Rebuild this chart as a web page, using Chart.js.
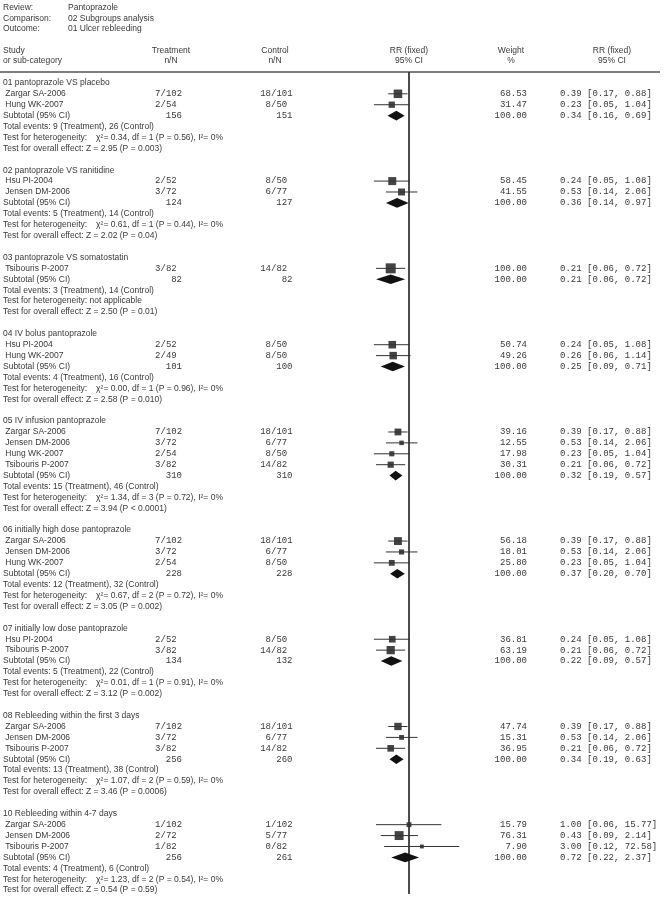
<!DOCTYPE html>
<html>
<head>
<meta charset="utf-8">
<title>Pantoprazole - Ulcer rebleeding</title>
<script src="https://cdn.jsdelivr.net/npm/chart.js@4.4.1/dist/chart.umd.min.js"></script>
<style>
    body { margin: 0; background: #fff; }
    #forest { display: block; }
</style>
</head>
<body>
<canvas id="forest" width="668" height="901"></canvas>
<script>
// review info
const reviewInfo = [['Review:', 'Pantoprazole'], ['Comparison:', '02 Subgroups analysis'], ['Outcome:', '01 Ulcer rebleeding']];

// subgroups
const groupTitles = [
    '01 pantoprazole VS placebo',
    '02 pantoprazole VS ranitidine',
    '03 pantoprazole VS somatostatin',
    '04 IV bolus pantoprazole',
    '05 IV infusion pantoprazole',
    '06 initially high dose pantoprazole',
    '07 initially low dose pantoprazole',
    '08 Rebleeding within the first 3 days',
    '10 Rebleeding within 4-7 days'
];
const groupSizes = [2, 2, 1, 2, 4, 3, 2, 3, 3];

// studies (in order of the groups)
const studyNames = [
    'Zargar SA-2006', 'Hung WK-2007',
    'Hsu PI-2004', 'Jensen DM-2006',
    'Tsibouris P-2007',
    'Hsu PI-2004', 'Hung WK-2007',
    'Zargar SA-2006', 'Jensen DM-2006', 'Hung WK-2007', 'Tsibouris P-2007',
    'Zargar SA-2006', 'Jensen DM-2006', 'Hung WK-2007',
    'Hsu PI-2004', 'Tsibouris P-2007',
    'Zargar SA-2006', 'Jensen DM-2006', 'Tsibouris P-2007',
    'Zargar SA-2006', 'Jensen DM-2006', 'Tsibouris P-2007'
];
const treatEvents = [7, 2, 2, 3, 3, 2, 2, 7, 3, 2, 3, 7, 3, 2, 2, 3, 7, 3, 3, 1, 2, 1];
const treatTotals = [102, 54, 52, 72, 82, 52, 49, 102, 72, 54, 82, 102, 72, 54, 52, 82, 102, 72, 82, 102, 72, 82];
const ctrlEvents = [18, 8, 8, 6, 14, 8, 8, 18, 6, 8, 14, 18, 6, 8, 8, 14, 18, 6, 14, 1, 5, 0];
const ctrlTotals = [101, 50, 50, 77, 82, 50, 50, 101, 77, 50, 82, 101, 77, 50, 50, 82, 101, 77, 82, 102, 77, 82];
const studyWeights = [68.53, 31.47, 58.45, 41.55, 100.00, 50.74, 49.26, 39.16, 12.55, 17.98, 30.31,
    56.18, 18.01, 25.80, 36.81, 63.19, 47.74, 15.31, 36.95, 15.79, 76.31, 7.90];
const studyRR = [0.39, 0.23, 0.24, 0.53, 0.21, 0.24, 0.26, 0.39, 0.53, 0.23, 0.21,
    0.39, 0.53, 0.23, 0.24, 0.21, 0.39, 0.53, 0.21, 1.00, 0.43, 3.00];
const studyLow = [0.17, 0.05, 0.05, 0.14, 0.06, 0.05, 0.06, 0.17, 0.14, 0.05, 0.06,
    0.17, 0.14, 0.05, 0.05, 0.06, 0.17, 0.14, 0.06, 0.06, 0.09, 0.12];
const studyHigh = [0.88, 1.04, 1.08, 2.06, 0.72, 1.08, 1.14, 0.88, 2.06, 1.04, 0.72,
    0.88, 2.06, 1.04, 1.08, 0.72, 0.88, 2.06, 0.72, 15.77, 2.14, 72.58];

// subtotals
const subTreatTotals = [156, 124, 82, 101, 310, 228, 134, 256, 256];
const subCtrlTotals = [151, 127, 82, 100, 310, 228, 132, 260, 261];
const subRR = [0.34, 0.36, 0.21, 0.25, 0.32, 0.37, 0.22, 0.34, 0.72];
const subLow = [0.16, 0.14, 0.06, 0.09, 0.19, 0.20, 0.09, 0.19, 0.22];
const subHigh = [0.69, 0.97, 0.72, 0.71, 0.57, 0.70, 0.57, 0.63, 2.37];
const subTreatEvents = [9, 5, 3, 4, 15, 12, 5, 13, 4];
const subCtrlEvents = [26, 14, 14, 16, 46, 32, 22, 38, 6];
const hetChi2 = [0.34, 0.61, null, 0.00, 1.34, 0.67, 0.01, 1.07, 1.23];
const hetDf = [1, 1, null, 1, 3, 2, 1, 2, 2];
const hetP = ['0.56', '0.44', null, '0.96', '0.72', '0.72', '0.91', '0.59', '0.54'];
const overallZ = [2.95, 2.02, 2.50, 2.58, 3.94, 3.05, 3.12, 3.46, 0.54];
const overallP = ['= 0.003', '= 0.04', '= 0.01', '= 0.010', '< 0.0001', '= 0.002', '= 0.002', '= 0.0006', '= 0.59'];

const SANS = '8.5px "Liberation Sans", Arial, sans-serif';
const MONO = '9px "Liberation Mono", "Courier New", monospace';
const TEXT = '#3a3a3a';

// work out which row every line goes on
let groupRows = [], studyRows = [], subRows = [];
let row = 0, k = 0;
groupSizes.forEach((n, g) => {
    groupRows.push(row++);
    for (let i = 0; i < n; i++) studyRows[k++] = row++;
    subRows.push(row);
    row += 5;
});
const lastRow = row - 2;

let ciData = [];
studyRows.forEach((r, i) => {
    ciData.push({x: studyLow[i], y: r}, {x: studyHigh[i], y: r}, {x: null, y: null});
});

const boxData = studyRows.map((r, i) => ({x: studyRR[i], y: r}));

function boxRadius(ctx) {
    const w = studyWeights[ctx.dataIndex];
    return (1.5 + 0.85 * Math.sqrt(w)) / Math.SQRT2;
}

// diamonds for subtotals
const diamondPlugin = {
    id: 'diamonds',
    afterDatasetsDraw(chart) {
        const ctx = chart.ctx, xs = chart.scales.x, ys = chart.scales.y;
        ctx.save();
        ctx.fillStyle = '#111';
        subRows.forEach((r, g) => {
            const yc = ys.getPixelForValue(r);
            const x0 = xs.getPixelForValue(subLow[g]);
            const xm = xs.getPixelForValue(subRR[g]);
            const x1 = xs.getPixelForValue(subHigh[g]);
            ctx.beginPath();
            ctx.moveTo(x0, yc);
            ctx.lineTo(xm, yc - 4.8);
            ctx.lineTo(x1, yc);
            ctx.lineTo(xm, yc + 4.8);
            ctx.closePath();
            ctx.fill();
        });
        ctx.restore();
    }
};

function nN(ctx, ev, tot, slashX, y) {
    ctx.textAlign = 'right';
    ctx.fillText(String(ev), slashX, y);
    ctx.textAlign = 'left';
    ctx.fillText('/' + tot, slashX, y);
}

const textPlugin = {
    id: 'tableText',
    beforeDatasetsDraw(chart) {
        const ctx = chart.ctx;
        ctx.save();
        ctx.strokeStyle = '#555';
        ctx.lineWidth = 1.5;
        ctx.beginPath();
        ctx.moveTo(0, chart.chartArea.top);
        ctx.lineTo(660, chart.chartArea.top);
        ctx.stroke();
        ctx.restore();
    },
    afterDraw(chart) {
        const ctx = chart.ctx, ys = chart.scales.y, xs = chart.scales.x;
        const col = {label: 3, treatSlash: 160.5, ctrlSlash: 271, treatSub: 182, ctrlSub: 292.5,
            weight: 527, rr: 560, treatHead: 171, ctrlHead: 275, plotHead: xs.getPixelForValue(1),
            weightHead: 511, rrHead: 612};
        ctx.save();
        ctx.fillStyle = TEXT;
        ctx.textBaseline = 'middle';
        ctx.font = SANS;

        reviewInfo.forEach((item, i) => {
            const y = 8 + i * 10.5;
            ctx.textAlign = 'left';
            ctx.fillText(item[0], col.label, y);
            ctx.fillText(item[1], 68, y);
        });

        const h1 = ys.getPixelForValue(-3), h2 = ys.getPixelForValue(-2);
        ctx.textAlign = 'left';
        ctx.fillText('Study', col.label, h1);
        ctx.fillText('or sub-category', col.label, h2);
        ctx.textAlign = 'center';
        [[col.treatHead, 'Treatment', 'n/N'], [col.ctrlHead, 'Control', 'n/N'],
            [col.plotHead, 'RR (fixed)', '95% CI'], [col.weightHead, 'Weight', '%'],
            [col.rrHead, 'RR (fixed)', '95% CI']].forEach(h => {
            ctx.fillText(h[1], h[0], h1);
            ctx.fillText(h[2], h[0], h2);
        });

        let s = 0;
        groupTitles.forEach((title, g) => {
            ctx.font = SANS;
            ctx.textAlign = 'left';
            ctx.fillText(title, col.label, ys.getPixelForValue(groupRows[g]));
            for (let i = 0; i < groupSizes[g]; i++, s++) {
                const y = ys.getPixelForValue(studyRows[s]);
                ctx.font = SANS;
                ctx.textAlign = 'left';
                ctx.fillText(' ' + studyNames[s], col.label, y);
                ctx.font = MONO;
                nN(ctx, treatEvents[s], treatTotals[s], col.treatSlash, y);
                nN(ctx, ctrlEvents[s], ctrlTotals[s], col.ctrlSlash, y);
                ctx.textAlign = 'right';
                ctx.fillText(studyWeights[s].toFixed(2), col.weight, y);
                ctx.textAlign = 'left';
                ctx.fillText(`${studyRR[s].toFixed(2)} [${studyLow[s].toFixed(2)}, ${studyHigh[s].toFixed(2)}]`, col.rr, y);
            }
            const r = subRows[g];
            let y = ys.getPixelForValue(r);
            ctx.font = SANS;
            ctx.textAlign = 'left';
            ctx.fillText('Subtotal (95% CI)', col.label, y);
            ctx.font = MONO;
            ctx.textAlign = 'right';
            ctx.fillText(String(subTreatTotals[g]), col.treatSub, y);
            ctx.fillText(String(subCtrlTotals[g]), col.ctrlSub, y);
            ctx.fillText('100.00', col.weight, y);
            ctx.textAlign = 'left';
            ctx.fillText(`${subRR[g].toFixed(2)} [${subLow[g].toFixed(2)}, ${subHigh[g].toFixed(2)}]`, col.rr, y);

            ctx.font = SANS;
            ctx.fillText(`Total events: ${subTreatEvents[g]} (Treatment), ${subCtrlEvents[g]} (Control)`,
                col.label, ys.getPixelForValue(r + 1));
            y = ys.getPixelForValue(r + 2);
            if (hetChi2[g] === null) {
                ctx.fillText('Test for heterogeneity: not applicable', col.label, y);
            } else {
                const lab = 'Test for heterogeneity:';
                ctx.fillText(lab, col.label, y);
                const x = col.label + ctx.measureText(lab).width + 9;
                ctx.fillText(`\u03C7\u00B2= ${hetChi2[g].toFixed(2)}, df = ${hetDf[g]} (P = ${hetP[g]}), I\u00B2= 0%`, x, y);
            }
            ctx.fillText(`Test for overall effect: Z = ${overallZ[g].toFixed(2)} (P ${overallP[g]})`,
                col.label, ys.getPixelForValue(r + 3));
        });
        ctx.restore();
    }
};

const forest = new Chart(document.getElementById('forest'), {
    type: 'scatter',
    data: {
        datasets: [
            {
                label: 'no effect',
                data: [{x: 1, y: -1}, {x: 1, y: lastRow + 0.35}],
                showLine: true,
                borderColor: '#333',
                borderWidth: 1,
                pointRadius: 0
            },
            {
                label: '95% CI',
                data: ciData,
                showLine: true,
                spanGaps: false,
                borderColor: '#333',
                borderWidth: 1,
                pointRadius: 0
            },
            {
                label: 'RR',
                data: boxData,
                pointStyle: 'rect',
                pointRadius: boxRadius,
                backgroundColor: '#444',
                borderWidth: 0
            }
        ]
    },
    options: {
        responsive: false,
        animation: false,
        layout: {
            padding: {left: 355, right: 205, top: 72, bottom: 4}
        },
        scales: {
            x: {type: 'logarithmic', min: 0.01, max: 100, display: false},
            y: {type: 'linear', reverse: true, min: -1, max: lastRow + 0.35, display: false}
        },
        plugins: {
            legend: {display: false},
            tooltip: {enabled: false}
        }
    },
    plugins: [textPlugin, diamondPlugin]
});
</script>
</body>
</html>
